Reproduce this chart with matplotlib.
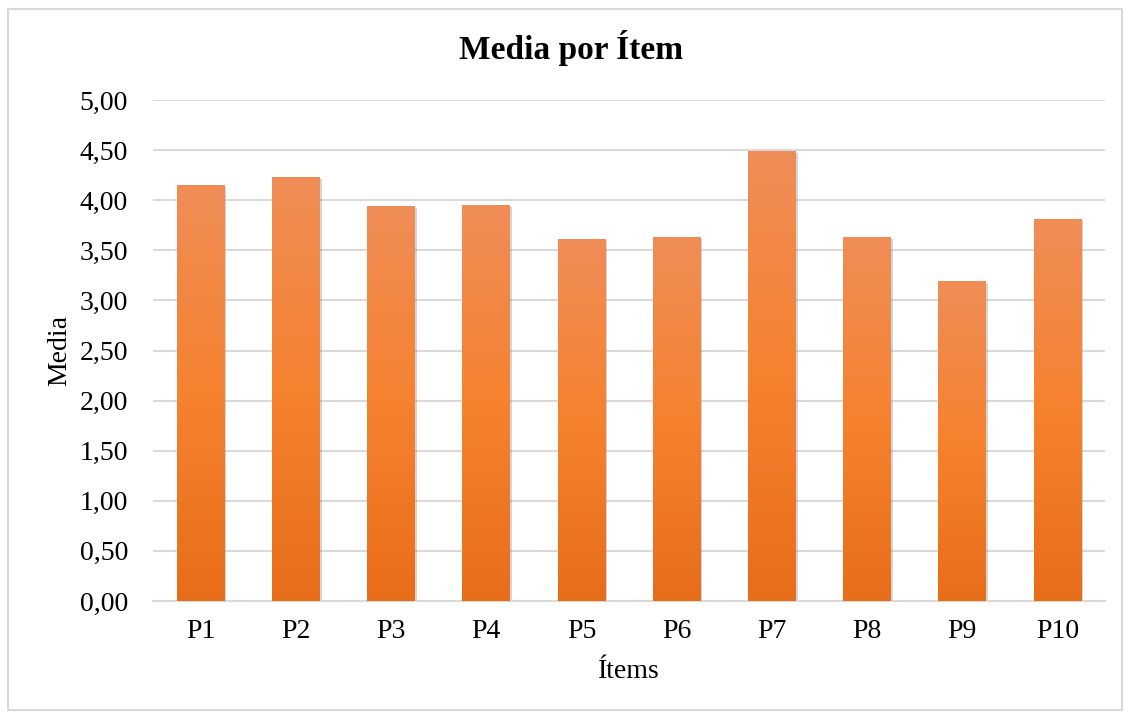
import numpy as np
import matplotlib.pyplot as plt
import matplotlib.patheffects as pe
from matplotlib.colors import LinearSegmentedColormap
from matplotlib.patches import Rectangle

items = ['P1', 'P2', 'P3', 'P4', 'P5', 'P6', 'P7', 'P8', 'P9', 'P10']
medias = [4.15, 4.23, 3.94, 3.95, 3.61, 3.63, 4.49, 3.63, 3.19, 3.81]
yticks = [0, 0.5, 1, 1.5, 2, 2.5, 3, 3.5, 4, 4.5, 5]

plt.rcParams['font.family'] = ['Liberation Serif', 'DejaVu Serif']

fig = plt.figure(figsize=(11.3, 7.17), dpi=100)
fig.patches.append(Rectangle((0.007, 0.01), 0.986, 0.978, transform=fig.transFigure,
                             fill=False, edgecolor='#d9d9d9', linewidth=1.5))
ax = fig.add_axes([0.1354, 0.1618, 0.8425, 0.6987])

x = np.arange(len(items))
bars = ax.bar(x, medias, width=0.5, color='#f5812e', zorder=2,
              path_effects=[pe.SimplePatchShadow(offset=(1.5, -1.5), shadow_rgbFace='#888888', alpha=0.35),
                            pe.Normal()])

# degradado vertical dentro de cada barra
cmap = LinearSegmentedColormap.from_list('naranja', ['#e86d1a', '#f5822f', '#f08d57'])
grad = np.linspace(0, 1, 256).reshape(-1, 1)
for b in bars:
    x0, y0 = b.get_x(), b.get_y()
    w, h = b.get_width(), b.get_height()
    im = ax.imshow(grad, cmap=cmap, origin='lower', aspect='auto',
                   extent=[x0, x0 + w, y0, y0 + h], zorder=3)
    im.set_clip_path(b)

ax.set_xlim(-0.5, len(items) - 0.5)
ax.set_ylim(0, 5)
ax.set_xticks(x)
ax.set_xticklabels(items)
ax.set_yticks(yticks)
ax.set_yticklabels([f'{v:.2f}'.replace('.', ',') for v in yticks])
ax.tick_params(length=0, labelsize=20)
ax.tick_params(axis='y', pad=18)
ax.tick_params(axis='x', pad=13)
ax.grid(axis='y', color='#d9d9d9', linewidth=1.5, zorder=0)
ax.set_axisbelow(True)
for s in ['top', 'right', 'left']:
    ax.spines[s].set_visible(False)
ax.spines['bottom'].set_color('#d9d9d9')
ax.spines['bottom'].set_linewidth(1.5)

fig.text(0.505, 0.933, 'Media por Ítem', fontsize=24, fontweight='bold',
         ha='center', va='center')
ax.set_xlabel('Ítems', fontsize=20, labelpad=11)
ax.set_ylabel('Media', fontsize=20, labelpad=5)

plt.savefig('out.png', dpi=100)
